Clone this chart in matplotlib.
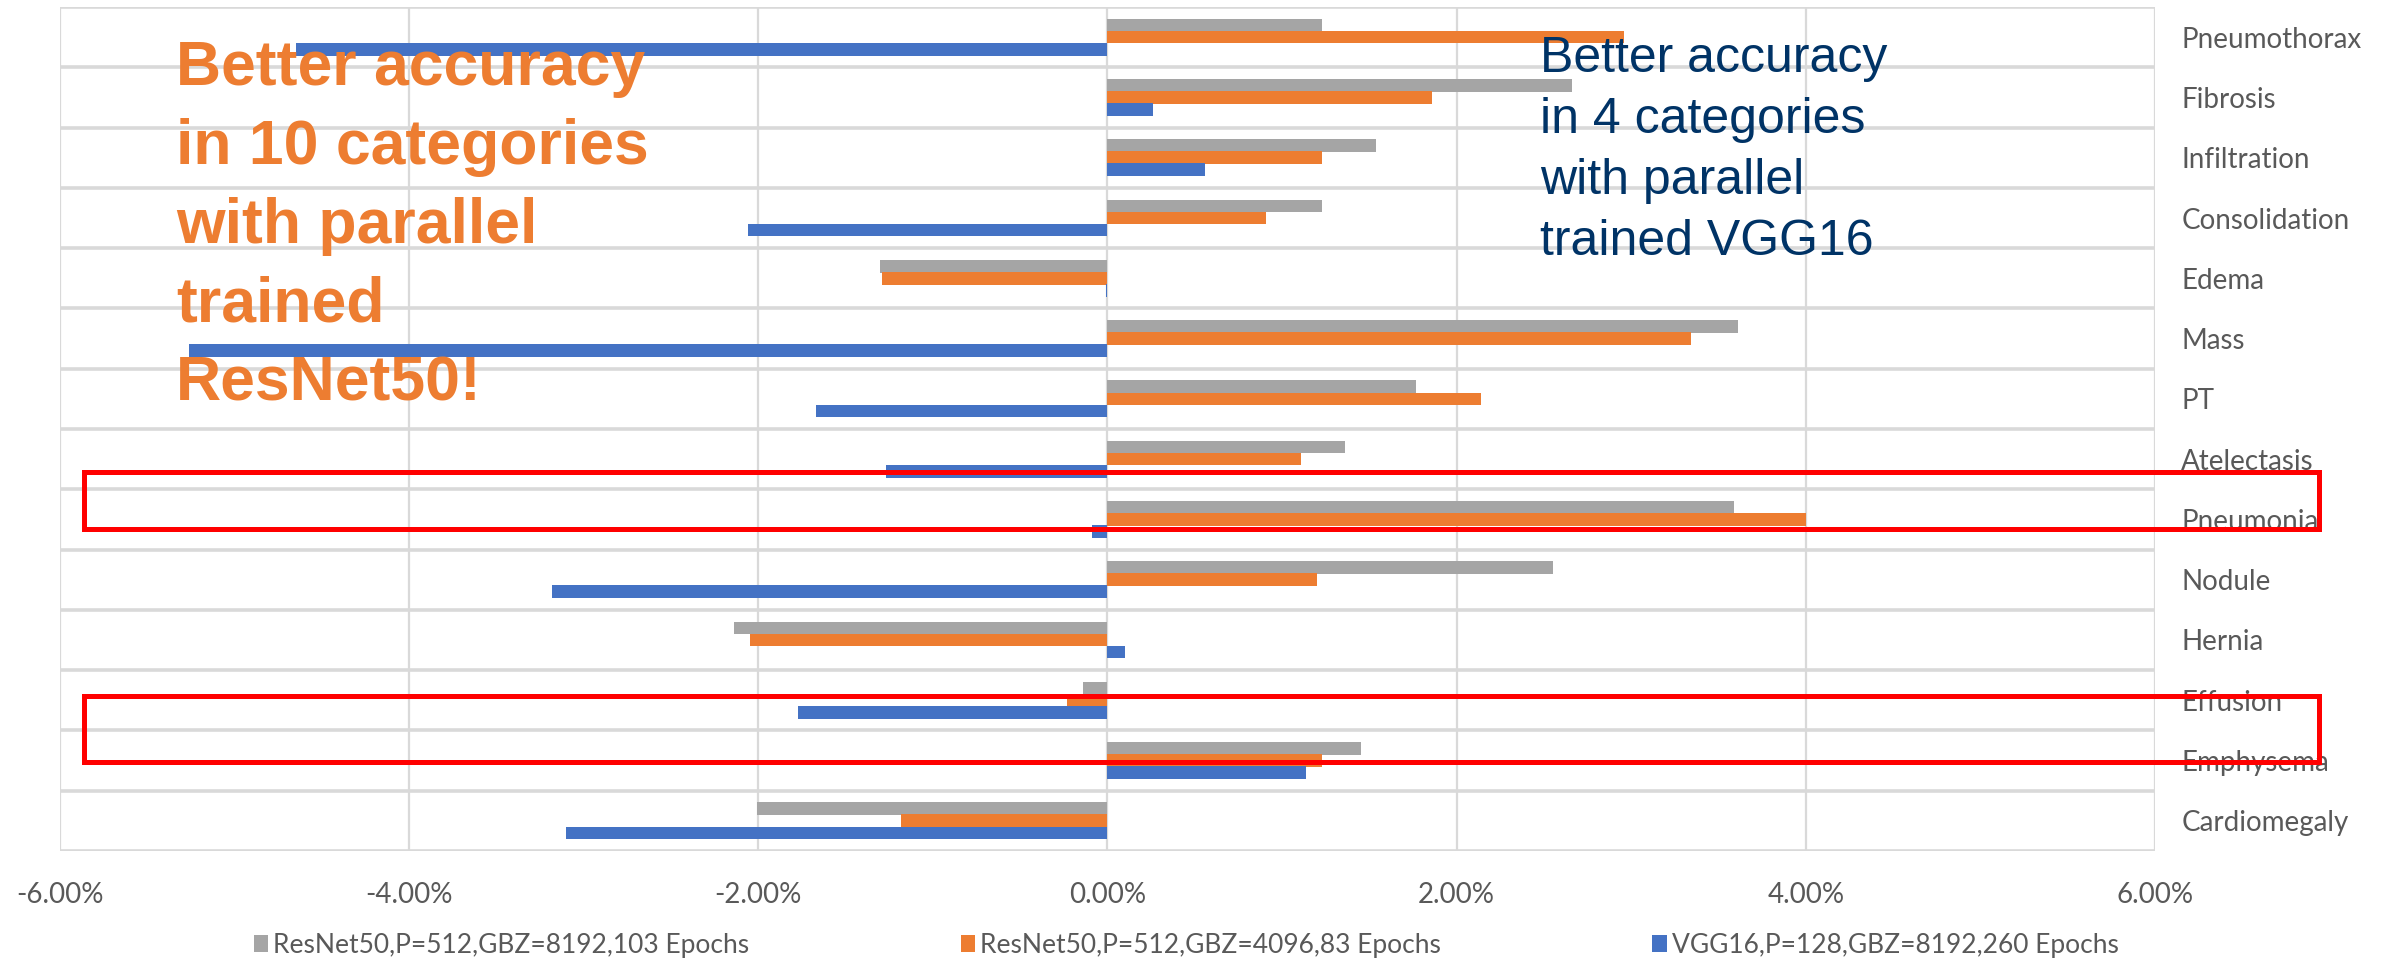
import numpy as np
import matplotlib.pyplot as plt
from matplotlib.patches import Rectangle
from matplotlib.ticker import FuncFormatter

plt.rcParams['font.family'] = ['Lato', 'DejaVu Sans']

# categories top to bottom, values are accuracy differences in %
categories = ["Pneumothorax", "Fibrosis", "Infiltration", "Consolidation", "Edema",
              "Mass", "PT", "Atelectasis", "Pneumonia", "Nodule", "Hernia",
              "Effusion", "Emphysema", "Cardiomegaly"]
resnet_8192 = [1.23, 2.66, 1.54, 1.23, -1.30, 3.61, 1.77, 1.36, 3.59, 2.55, -2.14, -0.14, 1.45, -2.01]
resnet_4096 = [2.96, 1.86, 1.23, 0.91, -1.29, 3.34, 2.14, 1.11, 4.00, 1.20, -2.05, -0.23, 1.23, -1.18]
vgg16 = [-4.65, 0.26, 0.56, -2.06, -0.01, -5.26, -1.67, -1.27, -0.09, -3.18, 0.10, -1.77, 1.14, -3.10]
series_labels = ["ResNet50,P=512,GBZ=8192,103 Epochs",
                 "ResNet50,P=512,GBZ=4096,83 Epochs",
                 "VGG16,P=128,GBZ=8192,260 Epochs"]
x_ticks = [-6, -4, -2, 0, 2, 4, 6]

fig = plt.figure(figsize=(23.87, 9.61), dpi=100)
ax = fig.add_axes([0.0251, 0.1145, 0.8777, 0.8782])

y = np.arange(len(categories))
h = 0.21
ax.barh(y - 0.2, resnet_8192, height=h, color='#A5A5A5', zorder=3, label=series_labels[0])
ax.barh(y, resnet_4096, height=h, color='#ED7D31', zorder=3, label=series_labels[1])
ax.barh(y + 0.2, vgg16, height=h, color='#4472C4', zorder=3, label=series_labels[2])

ax.set_xlim(-6, 6)
ax.set_ylim(len(categories) - 0.5, -0.5)
ax.set_xticks(x_ticks)
ax.xaxis.set_major_formatter(FuncFormatter(lambda v, p: f"{v:.2f}%"))
ax.set_yticks(y)
ax.set_yticklabels(categories)
ax.yaxis.tick_right()
ax.set_yticks(np.arange(-0.5, len(categories)), minor=True)

ax.grid(axis='x', which='major', color='#d9d9d9', lw=1.6)
ax.grid(axis='y', which='minor', color='#d9d9d9', lw=2.6)
ax.set_axisbelow(True)
ax.tick_params(which='both', length=0)
ax.tick_params(axis='y', pad=19, labelsize=20, labelcolor='#595959')
ax.tick_params(axis='x', pad=22, labelsize=20, labelcolor='#595959')
for s in ax.spines.values():
    s.set_visible(False)

# red highlight boxes
ax.add_patch(Rectangle((-5.86, 7.21), 12.8, 0.95, fill=False, ec='#FF0000', lw=3.6,
                       clip_on=False, zorder=10))
ax.add_patch(Rectangle((-5.86, 10.93), 12.8, 1.09, fill=False, ec='#FF0000', lw=3.6,
                       clip_on=False, zorder=10))

fig.text(0.0737, 0.9594, "Better accuracy\nin 10 categories\nwith parallel\ntrained\nResNet50!",
         color='#ED7D31', fontsize=45, fontweight='bold', family='Liberation Sans',
         va='top', ha='left', linespacing=1.43)
fig.text(0.6452, 0.9625, "Better accuracy\nin 4 categories\nwith parallel\ntrained VGG16",
         color='#003366', fontsize=36, family='Liberation Sans',
         va='top', ha='left', linespacing=1.42)

fig.legend(loc='center', bbox_to_anchor=(0.497, 0.0166), ncol=3, frameon=False,
           fontsize=19, handlelength=0.55, handleheight=0.6, handletextpad=0.2,
           columnspacing=8, labelcolor='#595959')

fig.savefig('out.png', dpi=100)
